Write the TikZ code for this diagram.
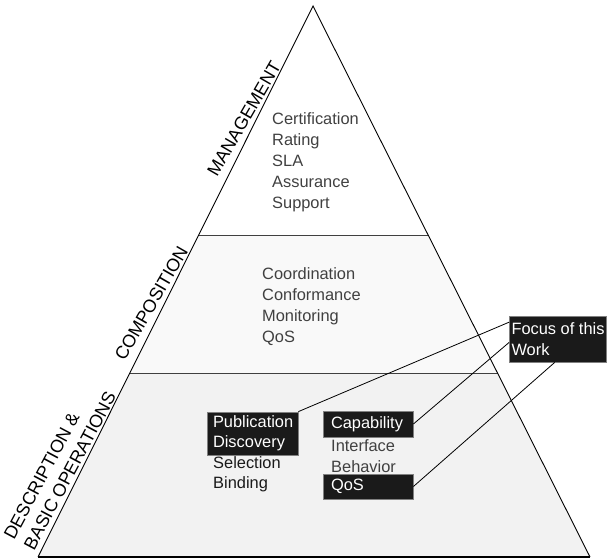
\documentclass[tikz,border=0pt]{standalone}
\usepackage{fontspec}
\setmainfont{Liberation Sans}
\usetikzlibrary{calc}
\definecolor{midfill}{HTML}{F9F9F9}
\definecolor{lowfill}{HTML}{F2F2F2}
\definecolor{itemgray}{HTML}{404040}
\definecolor{itemdark}{HTML}{1A1A1A}
\definecolor{boxfill}{HTML}{1A1A1A}
\definecolor{boxedge}{HTML}{808080}
\definecolor{ruleline}{HTML}{404040}
\definecolor{baseline}{HTML}{505050}
\begin{document}
\begin{tikzpicture}[x=1pt,y=-1pt,
  item/.style={font=\fontsize{16.4}{21}\selectfont, text=itemgray, align=left, inner sep=0pt, anchor=west},
  itemtight/.style={item, font=\fontsize{16.4}{20.3}\selectfont},
  darkbox/.style={draw=boxedge, line width=0.8pt, fill=boxfill, text=white,
    font=\fontsize{16.4}{20.3}\selectfont, align=left, inner ysep=0pt},
  side/.style={font=\fontsize{18}{22.5}\selectfont, text=black, inner sep=0pt,
    rotate=60, anchor=south east},
  edge/.style={line width=0.9pt, black},
  divider/.style={line width=0.9pt, ruleline},
  link/.style={line width=0.8pt, black}
]
\useasboundingbox (0,0) rectangle (607,559);

% pyramid corners and layer boundaries
\coordinate (apex) at (313,6);
\coordinate (bl) at (38,557);
\coordinate (br) at (590,557);
\coordinate (l1) at (198.7,235);
\coordinate (r1) at (428.1,235);
\coordinate (l2) at (129.8,373);
\coordinate (r2) at (497.5,373);

% layer fills
\fill[midfill] (l1) -- (r1) -- (r2) -- (l2) -- cycle;
\fill[lowfill] (l2) -- (r2) -- (br) -- (bl) -- cycle;

% outline
\draw[divider] (l1) -- (r1);
\draw[divider] (l2) -- (r2);
\draw[edge] (bl) -- (apex) -- (br);
\draw[line width=1.8pt, baseline] (bl) -- (br);

% layer names along the left side, each ending on the edge
\node[side] (mgmt) at (282,66) {MANAGEMENT};
\node[side] (comp) at (189,251) {COMPOSITION};
\node[side, rotate=2, align=left] (desc) at (117,396) {DESCRIPTION \&\\BASIC OPERATIONS};

% management layer
\node[item] (mgmtitems) at (272,162.5) {Certification\\Rating\\SLA\\Assurance\\Support};

% composition layer
\node[item] (compitems) at (262,306.5) {Coordination\\Conformance\\Monitoring\\QoS};

% description & basic operations layer
\node[darkbox, minimum width=91pt, minimum height=43pt, inner xsep=6pt, text width=79pt]
  (pub) at (252.5,433.5) {Publication\\Discovery};
\node[itemtight, text=itemdark] (opsitems) at (213,474) {Selection\\Binding};

\node[darkbox, minimum width=90pt, minimum height=26pt, inner xsep=8pt, text width=74pt]
  (cap) at (368,424) {Capability};
\node[itemtight] (descitems) at (331,456) {Interface\\Behavior};
\node[darkbox, minimum width=90pt, minimum height=25pt, inner xsep=8pt, text width=74pt]
  (qos) at (368,486.5) {QoS};

% callout
\node[darkbox, minimum height=46pt, inner xsep=2pt] (focus) at (558,339) {Focus of this\\Work};

\draw[link] (pub.north east) -- (focus.161.6);
\draw[link] (cap.east) -- (focus.184.8);
\draw[link] (qos.east) -- (focus.262.6);
\end{tikzpicture}
\end{document}
